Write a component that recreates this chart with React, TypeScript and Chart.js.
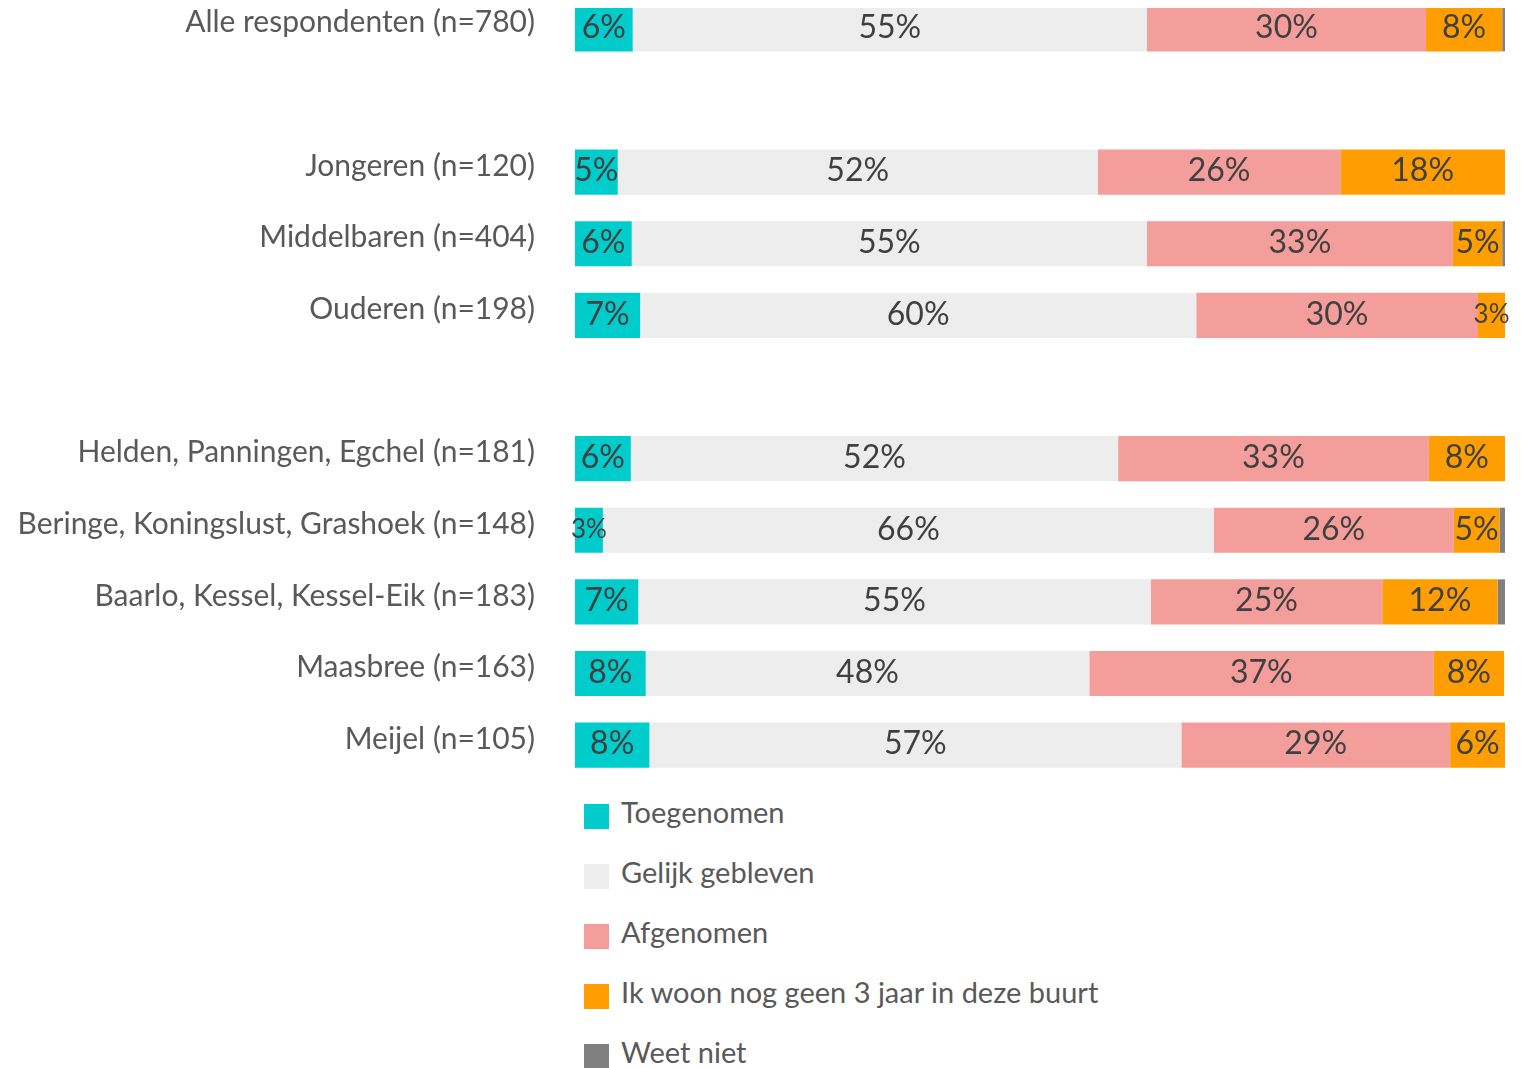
import React, { useEffect, useRef } from "react";
import { Chart, registerables } from "chart.js";

Chart.register(...registerables);

const categories = [
  "Alle respondenten (n=780)",
  "",
  "Jongeren (n=120)",
  "Middelbaren (n=404)",
  "Ouderen (n=198)",
  "",
  "Helden, Panningen, Egchel (n=181)",
  "Beringe, Koningslust, Grashoek (n=148)",
  "Baarlo, Kessel, Kessel-Eik (n=183)",
  "Maasbree (n=163)",
  "Meijel (n=105)",
];

const seriesNames = [
  "Toegenomen",
  "Gelijk gebleven",
  "Afgenomen",
  "Ik woon nog geen 3 jaar in deze buurt",
  "Weet niet",
];

const toegenomen = [6.2, null, 4.6, 6.1, 7.0, null, 6.0, 3.0, 6.8, 7.6, 8.0];
const gelijk = [55.3, null, 51.6, 55.4, 59.8, null, 52.4, 65.7, 55.1, 47.7, 57.2];
const afgenomen = [30.0, null, 26.1, 32.9, 30.3, null, 33.4, 25.8, 24.9, 37.0, 28.9];
const nogGeen3Jaar = [8.2, null, 17.7, 5.3, 2.9, null, 8.2, 4.9, 12.4, 7.6, 5.9];
const weetNiet = [0.3, null, 0, 0.3, 0, null, 0, 0.6, 0.8, 0, 0];

const colors = ["#00CCCC", "#EDEDED", "#F49E9C", "#FF9E00", "#808080"];

const FONT = "Lato, 'Open Sans', sans-serif";

const labelPlugin = {
  id: "segLabels",
  afterDatasetsDraw(chart: any) {
    const ctx = chart.ctx;
    ctx.save();
    ctx.textAlign = "center";
    ctx.textBaseline = "middle";
    ctx.fillStyle = "#404040";
    chart.data.datasets.forEach((ds: any, di: number) => {
      const meta = chart.getDatasetMeta(di);
      meta.data.forEach((el: any, i: number) => {
        const v = ds.data[i];
        if (v == null || v < 1) return;
        const r = Math.round(v);
        const size = v < 4 ? 26 : 32;
        ctx.font = `${size}px ${FONT}`;
        const x = (el.x + el.base) / 2;
        ctx.fillText(r + "%", x, el.y - 1);
      });
    });
    ctx.restore();
  },
};

export default function App() {
  const ref = useRef<HTMLCanvasElement | null>(null);
  useEffect(() => {
    if (!ref.current) return;
    const allData = [toegenomen, gelijk, afgenomen, nogGeen3Jaar, weetNiet];
    const chart = new Chart(ref.current, {
      type: "bar",
      data: {
        labels: categories,
        datasets: allData.map((d, i) => ({
          label: seriesNames[i],
          data: d,
          backgroundColor: colors[i],
          borderWidth: 0,
          categoryPercentage: 1,
          barPercentage: 0.63,
        })),
      },
      options: {
        indexAxis: "y",
        responsive: false,
        animation: false,
        devicePixelRatio: 1,
        layout: { padding: { top: 0, bottom: 0, left: 0, right: 27 } },
        plugins: {
          legend: { display: false },
          tooltip: { enabled: false },
        },
        scales: {
          x: {
            stacked: true,
            min: 0,
            max: 100,
            display: false,
          },
          y: {
            stacked: true,
            grid: { display: false, drawTicks: false },
            border: { display: false },
            ticks: {
              padding: 40,
              labelOffset: -6,
              color: "#595959",
              font: { family: FONT, size: 30 },
            },
            afterFit: (scale: any) => {
              scale.width = 575;
              scale.paddingTop = 0;
              scale.paddingBottom = 0;
            },
          },
        },
      },
      plugins: [labelPlugin],
    } as any);
    return () => chart.destroy();
  }, []);

  return (
    <div style={{ position: "relative", width: 1532, height: 1060 }}>
      <canvas
        ref={ref}
        width={1532}
        height={788}
        style={{ position: "absolute", left: -8, top: -15, width: 1532, height: 788 }}
      />
      <div style={{ position: "absolute", left: 576, top: 773 }}>
        {seriesNames.map((n, i) => (
          <div
            key={n}
            style={{
              display: "flex",
              alignItems: "center",
              height: 60,
              fontFamily: FONT,
              fontSize: 29,
              color: "#595959",
            }}
          >
            <span
              style={{
                display: "inline-block",
                width: 25,
                height: 25,
                background: colors[i],
                marginRight: 12,
                marginTop: 10,
              }}
            />
            <span>{n}</span>
          </div>
        ))}
      </div>
    </div>
  );
}
